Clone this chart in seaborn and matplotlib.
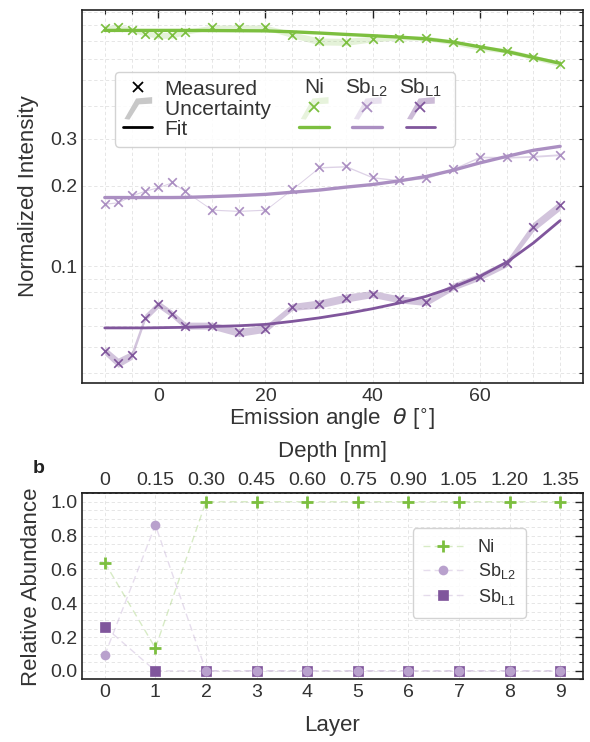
import matplotlib
matplotlib.use("Agg")
import matplotlib.pyplot as plt
import seaborn as sns
import pandas as pd
from matplotlib.lines import Line2D
from matplotlib.patches import Polygon
from matplotlib.text import Text
from matplotlib.legend_handler import HandlerBase, HandlerPatch, HandlerTuple
from matplotlib.ticker import FixedLocator, FixedFormatter, MultipleLocator, NullFormatter

# --- data ---
angles = [-10, -7.5, -5, -2.5, 0, 2.5, 5, 10, 15, 20, 25, 30, 35, 40, 45, 50, 55, 60, 65, 70, 75]

ni_meas = [0.781, 0.787, 0.771, 0.744, 0.733, 0.733, 0.755, 0.785, 0.787, 0.785, 0.737,
           0.696, 0.693, 0.711, 0.719, 0.715, 0.690, 0.658, 0.642, 0.606, 0.573]
ni_fit = [0.765, 0.765, 0.765, 0.765, 0.765, 0.765, 0.765, 0.764, 0.763, 0.762, 0.756,
          0.748, 0.739, 0.731, 0.722, 0.711, 0.692, 0.664, 0.638, 0.606, 0.576]
ni_unc = [0.02, 0.02, 0.02, 0.02, 0.025, 0.025, 0.02, 0.02, 0.02, 0.02, 0.025,
          0.03, 0.03, 0.025, 0.02, 0.02, 0.02, 0.02, 0.02, 0.02, 0.022]

sbl2_meas = [0.1717, 0.1737, 0.1845, 0.192, 0.198, 0.2064, 0.191, 0.163, 0.1613, 0.163, 0.195,
             0.2349, 0.237, 0.2154, 0.210, 0.2143, 0.2316, 0.2569, 0.256, 0.2582, 0.262]
sbl2_fit = [0.181, 0.181, 0.181, 0.181, 0.181, 0.181, 0.1812, 0.1825, 0.184, 0.186, 0.1895,
            0.193, 0.198, 0.2025, 0.209, 0.217, 0.229, 0.244, 0.258, 0.272, 0.2815]
sbl2_unc = [0.005, 0.005, 0.005, 0.005, 0.005, 0.005, 0.005, 0.005, 0.005, 0.005, 0.005,
            0.006, 0.006, 0.006, 0.006, 0.006, 0.006, 0.007, 0.007, 0.008, 0.008]

sbl1_meas = [0.0483, 0.0436, 0.0464, 0.0643, 0.0721, 0.0665, 0.0600, 0.0600, 0.0566, 0.0584, 0.0705,
             0.0723, 0.0761, 0.0788, 0.0752, 0.0735, 0.0839, 0.0915, 0.1026, 0.1408, 0.1692]
sbl1_fit = [0.0588, 0.0588, 0.0588, 0.0588, 0.0589, 0.0590, 0.0591, 0.0595, 0.0599, 0.0606, 0.0622,
            0.0641, 0.0665, 0.0694, 0.0729, 0.0772, 0.0835, 0.0917, 0.1035, 0.1223, 0.1484]
sbl1_unc = [0.035, 0.04, 0.035, 0.03, 0.03, 0.03, 0.03, 0.03, 0.035, 0.03, 0.03,
            0.035, 0.035, 0.03, 0.03, 0.03, 0.03, 0.03, 0.03, 0.04, 0.04]

layers = [0, 1, 2, 3, 4, 5, 6, 7, 8, 9]
depth_labels = ["0", "0.15", "0.30", "0.45", "0.60", "0.75", "0.90", "1.05", "1.20", "1.35"]
ni_abund = [0.64, 0.135, 1.0, 1.0, 1.0, 1.0, 1.0, 1.0, 1.0, 1.0]
sbl2_abund = [0.093, 0.862, 0.0, 0.0, 0.0, 0.0, 0.0, 0.0, 0.0, 0.0]
sbl1_abund = [0.26, 0.0, 0.0, 0.0, 0.0, 0.0, 0.0, 0.0, 0.0, 0.0]

ytick_major = [0.1]
ytick_major_labels = ["0.1"]
ytick_minor = [0.04, 0.05, 0.06, 0.07, 0.08, 0.09, 0.2, 0.3, 0.4, 0.5, 0.6, 0.7, 0.8, 0.9]
ytick_minor_labels = ["", "", "", "", "", "", "0.2", "0.3", "", "", "", "", "", ""]

# --- style ---
NI = "#7cbf3f"
SB2 = "#ab8fc2"
SB1 = "#80569c"
TXT = "#333333"

sns.set_style("white")
plt.rcParams["font.family"] = ["Liberation Sans", "DejaVu Sans"]
plt.rcParams.update({
    "text.color": TXT, "axes.labelcolor": TXT,
    "xtick.color": "#222222", "ytick.color": "#222222",
    "xtick.labelcolor": TXT, "ytick.labelcolor": TXT,
    "xtick.direction": "in", "ytick.direction": "in",
    "xtick.top": True, "ytick.right": True,
    "xtick.major.size": 6, "ytick.major.size": 6,
    "xtick.minor.size": 3, "ytick.minor.size": 3,
    "xtick.major.width": 1.0, "ytick.major.width": 1.0,
    "xtick.minor.width": 0.8, "ytick.minor.width": 0.8,
    "axes.edgecolor": "#222222", "axes.linewidth": 1.2,
    "xtick.labelsize": 14, "ytick.labelsize": 14, "axes.labelsize": 16,
})


def grid(ax):
    ax.grid(True, which="both", ls=(0, (4, 3)), lw=0.6, color="#e2e2e2")
    ax.set_axisbelow(True)


fig = plt.figure(figsize=(5.9, 7.42), dpi=100)
ax1 = fig.add_axes([0.139, 0.484, 0.849, 0.503])
ax2 = fig.add_axes([0.139, 0.0845, 0.849, 0.2507])

# --- panel a ---
series = [
    ("Ni", ni_meas, ni_fit, ni_unc, NI, 2.4, 0.2),
    ("SbL2", sbl2_meas, sbl2_fit, sbl2_unc, SB2, 2.4, 0.4),
    ("SbL1", sbl1_meas, sbl1_fit, sbl1_unc, SB1, 2.0, 0.35),
]
for name, meas, fit, unc, col, lw, a in series:
    lo = [m * (1 - u) for m, u in zip(meas, unc)]
    hi = [m * (1 + u) for m, u in zip(meas, unc)]
    ax1.fill_between(angles, lo, hi, color=col, alpha=a, lw=0, zorder=2)
    sns.lineplot(x=angles, y=fit, ax=ax1, color=col, lw=lw, zorder=3)
    sns.scatterplot(x=angles, y=meas, ax=ax1, marker="x", color=col, s=38,
                    linewidth=1.2, zorder=4)

ax1.set_yscale("log")
ax1.set_ylim(0.0366, 0.915)
ax1.set_xlim(-14.25, 79.25)
ax1.xaxis.set_major_locator(MultipleLocator(20))
ax1.xaxis.set_minor_locator(MultipleLocator(5))
ax1.yaxis.set_major_locator(FixedLocator(ytick_major))
ax1.yaxis.set_major_formatter(FixedFormatter(ytick_major_labels))
ax1.yaxis.set_minor_locator(FixedLocator(ytick_minor))
ax1.yaxis.set_minor_formatter(FixedFormatter(ytick_minor_labels))
ax1.tick_params(axis="y", which="minor", labelsize=14, labelcolor=TXT)
grid(ax1)
ax1.set_xlabel("Emission angle  $\\theta$ [$^{\\circ}$]", labelpad=1)
ax1.set_ylabel("Normalized Intensity", labelpad=8)


# legend with column headers
class Header:
    def __init__(self, text):
        self.text = text


class HandlerHeader(HandlerBase):
    def create_artists(self, legend, orig_handle, xdescent, ydescent, width, height, fontsize, trans):
        t = Text(width / 2 - xdescent, height / 2 - ydescent, orig_handle.text,
                 ha="center", va="center", fontsize=fontsize, color=TXT, transform=trans)
        return [t]


def ribbon(legend, orig_handle, xdescent, ydescent, width, height, fontsize):
    x0, y0, w, h = -xdescent, -ydescent, width, height
    pts = [(x0 + 0.05 * w, y0 - 0.3 * h), (x0 + 0.45 * w, y0 + 1.1 * h), (x0 + w, y0 + 1.2 * h),
           (x0 + w, y0 + 0.75 * h), (x0 + 0.55 * w, y0 + 0.7 * h), (x0 + 0.22 * w, y0 - 0.35 * h)]
    return Polygon(pts, closed=True)


def band(col, a):
    return Polygon([(0, 0), (1, 0), (1, 1)], facecolor=col, alpha=a, lw=0)


def xmark(col):
    return Line2D([], [], marker="x", ls="none", color=col, ms=7, mew=1.3)


def fitline(col, lw):
    return Line2D([], [], color=col, lw=lw)


handles = [xmark("black"), band("#c8c8c8", 1.0), fitline("black", 2.0)]
labels = ["Measured", "Uncertainty   ", "Fit"]
for name, head, col, lw, a in [("Ni", "Ni", NI, 2.4, 0.18),
                               ("SbL2", "Sb$_{\\mathregular{L2}}$", SB2, 2.4, 0.25),
                               ("SbL1", "Sb$_{\\mathregular{L1}}$", SB1, 2.0, 0.4)]:
    handles += [Header(head), (band(col, a), xmark(col)), fitline(col, lw)]
    labels += ["", "", ""]

leg = ax1.legend(handles, labels, ncol=4, loc="upper left", bbox_to_anchor=(0.066, 0.834),
                 borderaxespad=0, fontsize=15, handlelength=1.4, handletextpad=0.6,
                 columnspacing=0.55, labelspacing=0.05, borderpad=0.38, frameon=True,
                 fancybox=True, framealpha=0.85, edgecolor="#cccccc",
                 handler_map={Header: HandlerHeader(), Polygon: HandlerPatch(patch_func=ribbon),
                              tuple: HandlerTuple(ndivide=1)})

# --- panel b ---
sns.lineplot(x=layers, y=sbl1_abund, ax=ax2, color=(0.72, 0.62, 0.80, 0.35), lw=1.0,
             ls=(0, (5, 3)), marker="s", ms=7, mfc=SB1, mec=SB1, mew=0.5,
             label="Sb$_{\\mathregular{L1}}$")
sns.lineplot(x=layers, y=sbl2_abund, ax=ax2, color=(0.72, 0.62, 0.80, 0.35), lw=1.0,
             ls=(0, (5, 3)), marker="o", ms=7, mfc="#b9a1cd", mec="#b9a1cd", mew=0,
             label="Sb$_{\\mathregular{L2}}$")
sns.lineplot(x=layers, y=ni_abund, ax=ax2, color=(0.49, 0.75, 0.25, 0.3), lw=1.0,
             ls=(0, (5, 3)), marker="+", ms=9, mfc=NI, mec=NI, mew=2.0, label="Ni")

ax2.set_xlim(-0.45, 9.45)
ax2.set_ylim(-0.05, 1.05)
ax2.set_xticks(layers)
ax2.yaxis.set_major_locator(MultipleLocator(0.2))
ax2.yaxis.set_minor_locator(MultipleLocator(0.05))
ax2.tick_params(axis="x", top=False)
grid(ax2)
ax2.set_xlabel("Layer", labelpad=10)
ax2.set_ylabel("Relative Abundance", labelpad=6)

sec = ax2.secondary_xaxis("top")
sec.set_xticks(layers, labels=depth_labels)
sec.tick_params(direction="in", length=0, labelsize=14, pad=3)
sec.set_xlabel("Depth [nm]", fontsize=16, labelpad=11)

h, l = ax2.get_legend_handles_labels()
ax2.legend(h[::-1], l[::-1], loc="upper left", bbox_to_anchor=(0.66, 0.813), borderaxespad=0,
           fontsize=13, handlelength=2.2, labelspacing=0.3, borderpad=0.6, frameon=True,
           fancybox=True, framealpha=0.85, edgecolor="#cccccc")

fig.text(0.055, 0.3625, "b", fontsize=14, fontweight="bold", color="#222222")

fig.savefig("out.png", dpi=100)
